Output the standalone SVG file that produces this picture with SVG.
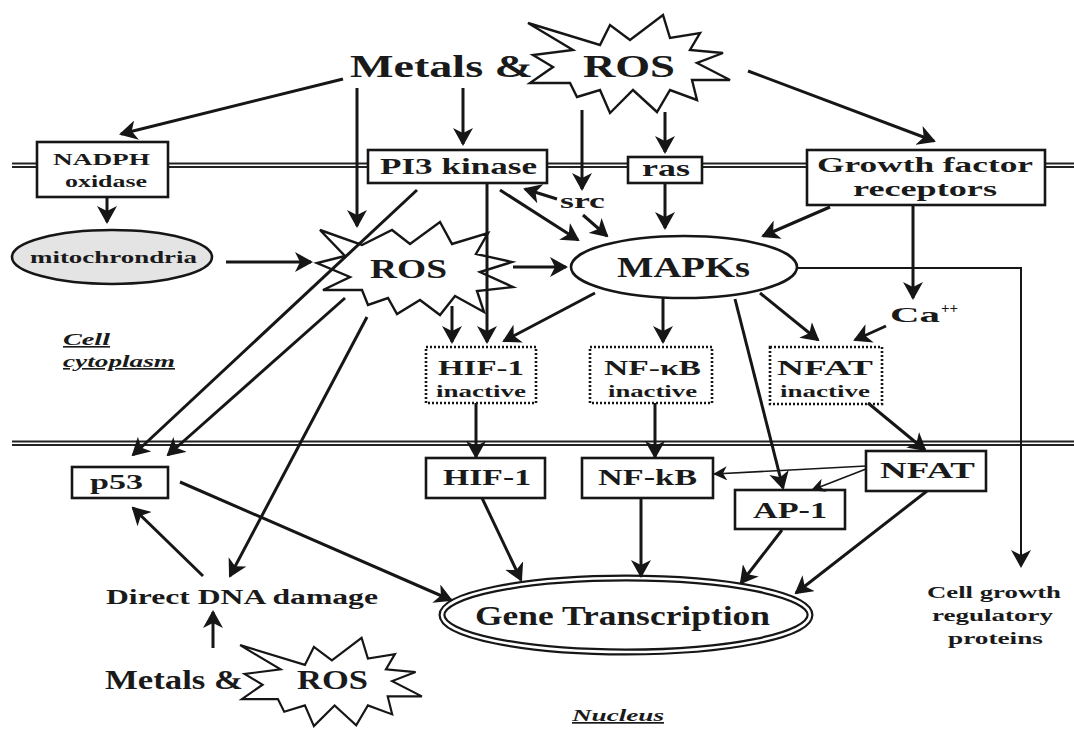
<svg xmlns="http://www.w3.org/2000/svg" width="1074" height="729" viewBox="0 0 1074 729">
<defs>
<style>
.bx{fill:#fff;stroke:#161616;stroke-width:2.6}
.dot{fill:#fff;stroke:#161616;stroke-width:2.6;stroke-dasharray:2 2}
.star{fill:#fff;stroke:#161616;stroke-width:2.4;stroke-linejoin:miter}
.t{font-family:"Liberation Serif","Times New Roman",serif;font-weight:bold;fill:#1a1a1a}
.it{font-family:"Liberation Serif","Times New Roman",serif;font-style:italic;font-weight:bold;fill:#1a1a1a;text-decoration:underline}
.mem{stroke:#222;stroke-width:1.8}
.cn line,.cn polyline{stroke:#161616;stroke-width:3;fill:none;marker-end:url(#ah)}
.cn .thin{stroke-width:1.6;marker-end:url(#ahs)}
.cn .mid{stroke-width:2}
</style>
<marker id="ah" viewBox="0 0 18 20" markerWidth="18" markerHeight="20" refX="16" refY="10" orient="auto" markerUnits="userSpaceOnUse">
<path d="M0,0 L18,10 L0,20 L5,10 z" fill="#161616"/>
</marker>
<marker id="ahs" viewBox="0 0 14 14" markerWidth="14" markerHeight="14" refX="13" refY="7" orient="auto" markerUnits="userSpaceOnUse">
<path d="M0,0 L14,7 L0,14 L4,7 z" fill="#161616"/>
</marker>
<path id="starA" d="M528,23 L600,45 L610,25 L630,40 L663,15 L670,38 L700,33 L690,50 L723,53 L697,63 L730,80 L692,80 L697,100 L670,90 L657,112 L633,90 L610,113 L600,90 L577,97 L570,83 L530,83 L553,67 L533,55 L573,50 Z"/>
</defs>
<rect width="1074" height="729" fill="#fff"/>

<g id="membranes">
<line class="mem" x1="12" y1="163.5" x2="1074" y2="163.5"/>
<line class="mem" x1="12" y1="167" x2="1074" y2="167"/>
<line class="mem" x1="12" y1="441.5" x2="1074" y2="441.5"/>
<line class="mem" x1="12" y1="445" x2="1074" y2="445"/>
</g>

<g id="metals-ros-top">
<use href="#starA" class="star"/>
<text class="t" x="350" y="77" font-size="32" textLength="183" lengthAdjust="spacingAndGlyphs">Metals &amp;</text>
<text class="t" x="583" y="77" font-size="32" textLength="92" lengthAdjust="spacingAndGlyphs">ROS</text>
</g>

<g id="nadph">
<rect class="bx" x="37" y="142" width="131" height="55"/>
<text class="t" x="53" y="165" font-size="17" textLength="97" lengthAdjust="spacingAndGlyphs">NADPH</text>
<text class="t" x="65" y="187" font-size="17" textLength="82" lengthAdjust="spacingAndGlyphs">oxidase</text>
</g>

<g id="pi3k">
<rect class="bx" x="368" y="150" width="179" height="33"/>
<text class="t" x="380" y="174" font-size="24" textLength="157" lengthAdjust="spacingAndGlyphs">PI3 kinase</text>
</g>

<g id="ras">
<rect class="bx" x="628" y="157" width="74" height="26"/>
<text class="t" x="642" y="176" font-size="24" textLength="48" lengthAdjust="spacingAndGlyphs">ras</text>
</g>

<g id="growth-factor">
<rect class="bx" x="807" y="150" width="238" height="55"/>
<text class="t" x="817" y="172" font-size="21" textLength="216" lengthAdjust="spacingAndGlyphs">Growth factor</text>
<text class="t" x="853" y="196" font-size="21" textLength="144" lengthAdjust="spacingAndGlyphs">receptors</text>
</g>

<g id="src">
<text class="t" x="560" y="208" font-size="22" textLength="45" lengthAdjust="spacingAndGlyphs">src</text>
</g>

<g id="mitochondria">
<ellipse cx="112" cy="257" rx="100" ry="27" fill="#e4e4e4" stroke="#161616" stroke-width="2.6"/>
<text class="t" x="30" y="263" font-size="17" textLength="167" lengthAdjust="spacingAndGlyphs">mitochrondria</text>
</g>

<g id="ros-mid">
<path class="star" d="M320,230 L362,245 L392,230 L410,244 L440,222 L452,244 L488,233 L476,254 L512,262 L480,272 L513,287 L477,291 L484,312 L455,296 L440,315 L420,300 L397,314 L388,298 L368,305 L362,290 L323,290 L350,277 L317,263 L345,256 Z"/>
<text class="t" x="370" y="278" font-size="28" textLength="77" lengthAdjust="spacingAndGlyphs">ROS</text>
</g>

<g id="mapks">
<ellipse cx="684" cy="267" rx="113" ry="31" fill="#fff" stroke="#161616" stroke-width="2.6"/>
<text class="t" x="617" y="277" font-size="30" textLength="133" lengthAdjust="spacingAndGlyphs">MAPKs</text>
</g>

<g id="ca">
<text class="t" x="890" y="322" font-size="22" textLength="50" lengthAdjust="spacingAndGlyphs">Ca</text>
<text class="t" x="941" y="313" font-size="15">++</text>
</g>

<g id="cytoplasm-label">
<text class="it" x="63" y="345" font-size="16" textLength="47" lengthAdjust="spacingAndGlyphs">Cell</text>
<text class="it" x="63" y="367" font-size="16" textLength="112" lengthAdjust="spacingAndGlyphs">cytoplasm</text>
</g>

<g id="hif1-inactive">
<rect class="dot" x="426" y="347" width="110" height="56"/>
<text class="t" x="438" y="375" font-size="22" textLength="86" lengthAdjust="spacingAndGlyphs">HIF-1</text>
<text class="t" x="436" y="397" font-size="16" textLength="90" lengthAdjust="spacingAndGlyphs">inactive</text>
</g>

<g id="nfkb-inactive">
<rect class="dot" x="590" y="347" width="122" height="56"/>
<text class="t" x="604" y="375" font-size="22" textLength="97" lengthAdjust="spacingAndGlyphs">NF-κB</text>
<text class="t" x="608" y="397" font-size="16" textLength="89" lengthAdjust="spacingAndGlyphs">inactive</text>
</g>

<g id="nfat-inactive">
<rect class="dot" x="770" y="347" width="112" height="57"/>
<text class="t" x="777" y="375" font-size="22" textLength="96" lengthAdjust="spacingAndGlyphs">NFAT</text>
<text class="t" x="780" y="397" font-size="16" textLength="90" lengthAdjust="spacingAndGlyphs">inactive</text>
</g>

<g id="p53">
<rect class="bx" x="72" y="467" width="96" height="31"/>
<text class="t" x="90" y="489" font-size="22" textLength="53" lengthAdjust="spacingAndGlyphs">p53</text>
</g>

<g id="hif1">
<rect class="bx" x="426" y="458" width="119" height="40"/>
<text class="t" x="443" y="485" font-size="24" textLength="88" lengthAdjust="spacingAndGlyphs">HIF-1</text>
</g>

<g id="nfkb">
<rect class="bx" x="582" y="458" width="131" height="40"/>
<text class="t" x="598" y="485" font-size="24" textLength="99" lengthAdjust="spacingAndGlyphs">NF-kB</text>
</g>

<g id="ap1">
<rect class="bx" x="735" y="490" width="110" height="39"/>
<text class="t" x="753" y="518" font-size="24" textLength="74" lengthAdjust="spacingAndGlyphs">AP-1</text>
</g>

<g id="nfat">
<rect class="bx" x="866" y="451" width="120" height="40"/>
<text class="t" x="880" y="478" font-size="24" textLength="95" lengthAdjust="spacingAndGlyphs">NFAT</text>
</g>

<g id="dna-damage">
<text class="t" x="106" y="604" font-size="20" textLength="272" lengthAdjust="spacingAndGlyphs">Direct DNA damage</text>
</g>

<g id="metals-ros-bottom">
<use href="#starA" class="star" transform="translate(331,682) scale(0.9) translate(-629,-64)"/>
<text class="t" x="105" y="689" font-size="27" textLength="138" lengthAdjust="spacingAndGlyphs">Metals &amp;</text>
<text class="t" x="297" y="689" font-size="27" textLength="71" lengthAdjust="spacingAndGlyphs">ROS</text>
</g>

<g id="gene-transcription">
<ellipse cx="626" cy="615" rx="184" ry="37" fill="#fff" stroke="#161616" stroke-width="7"/>
<ellipse cx="626" cy="615" rx="184" ry="37" fill="none" stroke="#fff" stroke-width="2.6"/>
<text class="t" x="475" y="625" font-size="28" textLength="295" lengthAdjust="spacingAndGlyphs">Gene Transcription</text>
</g>

<g id="cell-growth">
<text class="t" x="927" y="598" font-size="17" textLength="134" lengthAdjust="spacingAndGlyphs">Cell growth</text>
<text class="t" x="932" y="621" font-size="17" textLength="121" lengthAdjust="spacingAndGlyphs">regulatory</text>
<text class="t" x="948" y="644" font-size="17" textLength="95" lengthAdjust="spacingAndGlyphs">proteins</text>
</g>

<g id="nucleus-label">
<text class="it" x="572" y="721" font-size="17" textLength="92" lengthAdjust="spacingAndGlyphs">Nucleus</text>
</g>

<g id="connectors" class="cn">
<line x1="343" y1="79" x2="121" y2="134"/>
<line x1="357" y1="88" x2="357" y2="226"/>
<line x1="463" y1="88" x2="463" y2="144"/>
<line x1="582" y1="110" x2="582" y2="189"/>
<line x1="665" y1="112" x2="665" y2="152"/>
<line x1="748" y1="71" x2="934" y2="141"/>
<line x1="107" y1="197" x2="107" y2="222"/>
<line x1="226" y1="262" x2="311" y2="262"/>
<line x1="500" y1="190" x2="578" y2="240"/>
<line x1="557" y1="199" x2="525" y2="189"/>
<line x1="583" y1="215" x2="607" y2="236"/>
<line x1="665" y1="183" x2="665" y2="228"/>
<line x1="830" y1="207" x2="763" y2="236"/>
<line x1="913" y1="205" x2="913" y2="298"/>
<line x1="513" y1="267" x2="566" y2="267"/>
<line x1="487" y1="184" x2="487" y2="342"/>
<line x1="452" y1="306" x2="452" y2="342"/>
<line x1="595" y1="293" x2="504" y2="341"/>
<line x1="663" y1="298" x2="663" y2="342"/>
<line x1="760" y1="293" x2="818" y2="340"/>
<line x1="886" y1="326" x2="855" y2="340"/>
<line x1="735" y1="299" x2="783" y2="488"/>
<polyline class="mid" points="797,268 1021,268 1021,566"/>
<line x1="417" y1="190" x2="133" y2="455"/>
<line x1="345" y1="298" x2="168" y2="455"/>
<line x1="367" y1="317" x2="230" y2="576"/>
<line x1="203" y1="576" x2="133" y2="508"/>
<line x1="213" y1="648" x2="213" y2="612"/>
<line x1="180" y1="482" x2="451" y2="600"/>
<line x1="476" y1="403" x2="476" y2="457"/>
<line x1="655" y1="403" x2="655" y2="457"/>
<line x1="868" y1="403" x2="925" y2="450"/>
<line class="thin" x1="866" y1="466" x2="714" y2="474"/>
<line class="thin" x1="866" y1="469" x2="812" y2="490"/>
<line x1="482" y1="498" x2="521" y2="580"/>
<line x1="641" y1="498" x2="641" y2="576"/>
<line x1="782" y1="530" x2="741" y2="583"/>
<line x1="927" y1="491" x2="796" y2="593"/>
</g>
</svg>
